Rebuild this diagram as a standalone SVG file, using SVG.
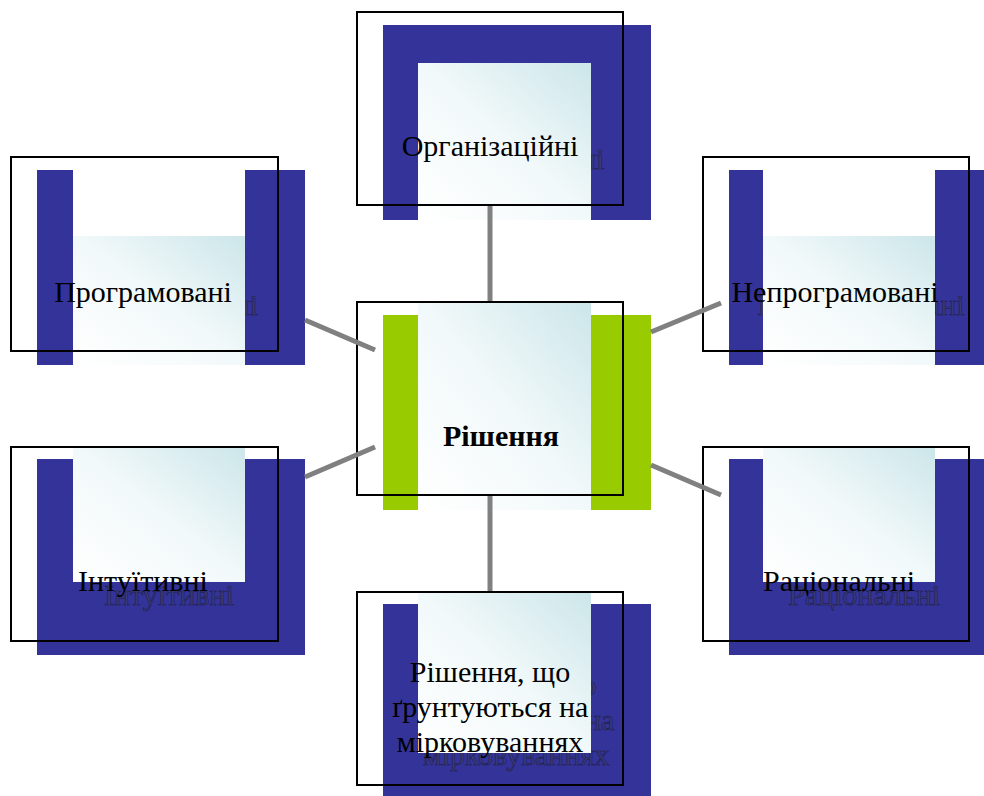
<svg xmlns="http://www.w3.org/2000/svg" width="984" height="796" viewBox="0 0 984 796">
<defs>
<linearGradient id="g" x1="0" y1="1" x2="1" y2="0">
<stop offset="0" stop-color="#ffffff"/>
<stop offset="0.5" stop-color="#f2f9fa"/>
<stop offset="1" stop-color="#cce6ea"/>
</linearGradient>
</defs>
<style>
.b{fill:#333399}
.gr{fill:#99cc00}
.f{fill:url(#g)}
.o{fill:none;stroke:#000;stroke-width:2}
.t{font-family:"Liberation Serif","Times New Roman",serif;font-size:30px;fill:#000;text-anchor:middle}
.s{font-family:"Liberation Serif","Times New Roman",serif;font-size:30px;fill:#3a3a78;stroke:#1e1e50;stroke-width:0.6;text-anchor:middle}
.bold{font-weight:bold}
.c{stroke:#808080;stroke-width:5;fill:none}
</style>
<g id="node-top">
<rect class="b" x="383" y="25" width="268" height="195"/>
<text class="s" x="516" y="169">Організаційні</text>
<rect class="f" x="418" y="63" width="173" height="157"/>
<text class="t" x="490" y="156">Організаційні</text>
<rect class="o" x="357" y="12" width="266" height="193"/>
</g>
<g id="node-left-top">
<rect class="b" x="37" y="170" width="36" height="195"/>
<rect class="b" x="245" y="170" width="60" height="195"/>
<text class="s" x="169" y="315">Програмовані</text>
<rect class="f" x="73" y="236" width="172" height="129"/>
<text class="t" x="143" y="302">Програмовані</text>
<rect class="o" x="11" y="157" width="267" height="194"/>
</g>
<g id="node-right-top">
<rect class="b" x="729" y="170" width="34" height="195"/>
<rect class="b" x="935" y="170" width="62" height="195"/>
<text class="s" x="861" y="315">Непрограмовані</text>
<rect class="f" x="763" y="236" width="172" height="129"/>
<text class="t" x="835" y="302">Непрограмовані</text>
<rect class="o" x="703" y="157" width="266" height="194"/>
</g>
<g id="node-center">
<rect class="gr" x="383" y="315" width="268" height="195"/>
<rect class="f" x="418" y="302" width="173" height="208"/>
<text class="t bold" x="501" y="446">Рішення</text>
<rect class="o" x="357" y="302" width="266" height="193"/>
</g>
<g id="node-left-bottom">
<rect class="b" x="37" y="459" width="268" height="196"/>
<text class="s" x="169" y="605">Інтуїтивні</text>
<rect class="f" x="73" y="447" width="172" height="135"/>
<text class="t" x="143" y="591">Інтуїтивні</text>
<rect class="o" x="11" y="447" width="267" height="194"/>
</g>
<g id="node-right-bottom">
<rect class="b" x="729" y="459" width="268" height="196"/>
<text class="s" x="864" y="605">Раціональні</text>
<rect class="f" x="763" y="447" width="172" height="135"/>
<text class="t" x="839" y="591">Раціональні</text>
<rect class="o" x="703" y="447" width="266" height="194"/>
</g>
<g id="node-bottom">
<rect class="b" x="383" y="604" width="268" height="195"/>
<text class="s" x="516" y="695">Рішення, що</text>
<text class="s" x="516" y="730">ґрунтуються на</text>
<text class="s" x="516" y="765">мірковуваннях</text>
<rect class="f" x="418" y="593" width="173" height="160"/>
<text class="t" x="490" y="682">Рішення, що</text>
<text class="t" x="490" y="717">ґрунтуються на</text>
<text class="t" x="490" y="752">мірковуваннях</text>
<rect class="o" x="357" y="592" width="266" height="193"/>
</g>
<g id="connectors">
<line class="c" x1="490" y1="206" x2="490" y2="301"/>
<line class="c" x1="490" y1="496" x2="490" y2="591"/>
<line class="c" x1="305" y1="320" x2="375" y2="350"/>
<line class="c" x1="305" y1="477" x2="375" y2="447"/>
<line class="c" x1="651" y1="332" x2="721" y2="303"/>
<line class="c" x1="651" y1="465" x2="721" y2="495"/>
</g>
</svg>
